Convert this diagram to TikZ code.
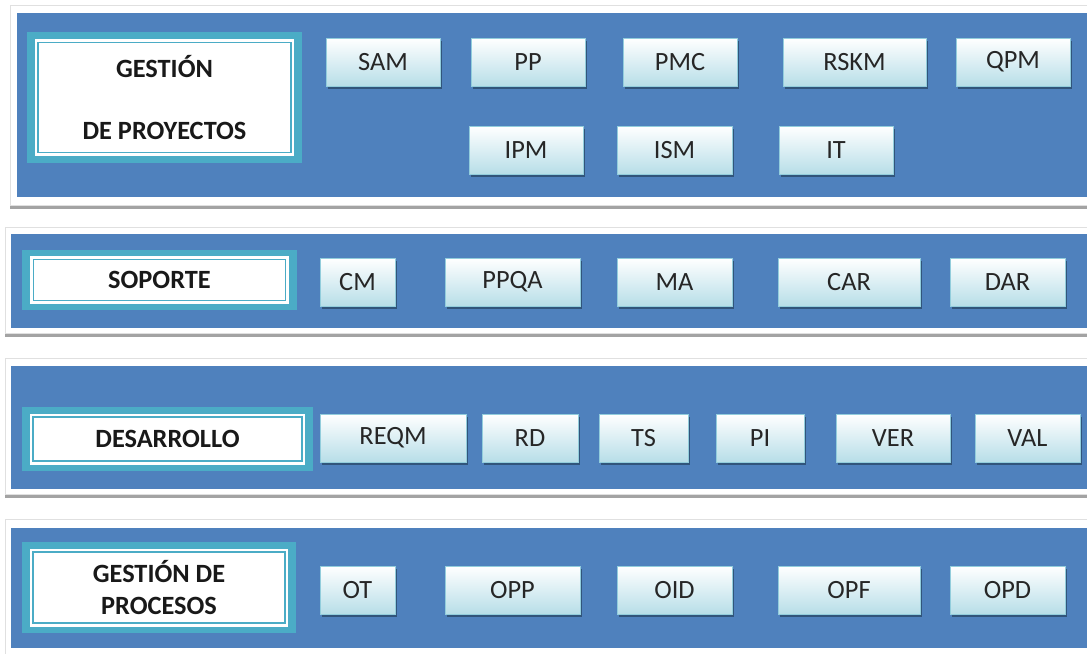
\documentclass[tikz,border=0pt]{standalone}
\usepackage{fontspec}
\setmainfont{Carlito}
\usetikzlibrary{shadows}
\definecolor{panelblue}{HTML}{4F81BD}
\definecolor{titleteal}{HTML}{4BACC6}
\definecolor{btnblue}{HTML}{B7DEE8}
\definecolor{btnedge}{HTML}{92CDDC}
\definecolor{btnshadow}{HTML}{2A4A6B}
\begin{document}
\begin{tikzpicture}[
  x=0.02cm, y=-0.02cm,
  panelframe/.style={fill=white, draw=black!12, drop shadow={shadow xshift=0pt, shadow yshift=-2pt, fill=black!45, opacity=0.8}},
  panel/.style={fill=panelblue},
  titleframe/.style={fill=titleteal, inner sep=0pt},
  titlebox/.style={fill=white, draw=titleteal, line width=0.8pt, preaction={draw=white, line width=4pt}, inner sep=0pt, align=center, font=\fontsize{15}{18}\selectfont\bfseries, text=black!90},
  btn/.style={top color=white, bottom color=btnblue, draw=btnedge, line width=0.5pt, inner sep=0pt, minimum height=0.96cm, font=\fontsize{15}{18}\selectfont, text=black!85, drop shadow={shadow xshift=1.2pt, shadow yshift=-1.5pt, fill=btnshadow, opacity=0.8}}
]
  \useasboundingbox (0,0) rectangle (1087,653);

  % --- PANEL 1: GESTION DE PROYECTOS ---
  \path[panelframe] (10,5) rectangle (1100,205);
  \path[panel] (17,13) rectangle (1100,197);
  \node[titleframe, minimum width=5.5cm, minimum height=2.62cm] (gpf) at (164.5,97.5) {};
  \node[titlebox, minimum width=5.06cm, minimum height=2.2cm] (gp) at (gpf) {GESTIÓN\\[17pt]DE PROYECTOS};

  \node[btn, minimum width=2.28cm] (sam)  at (383,62)   {SAM};
  \node[btn, minimum width=2.28cm] (pp)   at (528,62)   {PP};
  \node[btn, minimum width=2.28cm] (pmc)  at (680,62)   {PMC};
  \node[btn, minimum width=2.86cm] (rskm) at (854.5,62) {RSKM};
  \node[btn, minimum width=2.28cm] (qpm)  at (1013,62)  {QPM};
  \node[btn, minimum width=2.28cm] (ipm)  at (526,150)  {IPM};
  \node[btn, minimum width=2.30cm] (ism)  at (674.5,150) {ISM};
  \node[btn, minimum width=2.28cm] (it)   at (836,150)  {IT};

  % --- PANEL 2: SOPORTE ---
  \path[panelframe] (5,227) rectangle (1100,333);
  \path[panel] (11,234) rectangle (1100,328);
  \node[titleframe, minimum width=5.5cm, minimum height=1.2cm] (sof) at (159.5,280) {};
  \node[titlebox, minimum width=5.04cm, minimum height=0.82cm] (so) at (sof) {SOPORTE};

  \node[btn, minimum width=1.50cm] (cm)   at (357.5,282)  {CM};
  \node[btn, minimum width=2.70cm] (ppqa) at (512.5,282)  {PPQA};
  \node[btn, minimum width=2.30cm] (ma)   at (674.5,282)  {MA};
  \node[btn, minimum width=2.84cm] (car)  at (849,282)    {CAR};
  \node[btn, minimum width=2.30cm] (dar)  at (1007.5,282) {DAR};

  % --- PANEL 3: DESARROLLO ---
  \path[panelframe] (5,358) rectangle (1100,494);
  \path[panel] (11,366) rectangle (1100,489);
  \node[titleframe, minimum width=5.82cm, minimum height=1.28cm] (def) at (167.5,439) {};
  \node[titlebox, minimum width=5.38cm, minimum height=0.88cm] (de) at (def) {DESARROLLO};

  \node[btn, minimum width=2.92cm] (reqm) at (393,438)    {REQM};
  \node[btn, minimum width=1.92cm] (rd)   at (530,438)    {RD};
  \node[btn, minimum width=1.78cm] (ts)   at (643.5,438)  {TS};
  \node[btn, minimum width=1.76cm] (pi)   at (760,438)    {PI};
  \node[btn, minimum width=2.28cm] (ver)  at (893,438)    {VER};
  \node[btn, minimum width=2.10cm] (val)  at (1027.5,438) {VAL};

  % --- PANEL 4: GESTION DE PROCESOS ---
  \path[panelframe] (5,519) rectangle (1100,660);
  \path[panel] (11,528) rectangle (1100,648);
  \node[titleframe, minimum width=5.48cm, minimum height=1.82cm] (gcf) at (159,587.5) {};
  \node[titlebox, minimum width=5.04cm, minimum height=1.42cm] (gc) at (gcf) {GESTIÓN DE\\PROCESOS};

  \node[btn, minimum width=1.50cm] (ot)  at (357.5,590)  {OT};
  \node[btn, minimum width=2.70cm] (opp) at (512.5,590)  {OPP};
  \node[btn, minimum width=2.30cm] (oid) at (674.5,590)  {OID};
  \node[btn, minimum width=2.84cm] (opf) at (849,590)    {OPF};
  \node[btn, minimum width=2.30cm] (opd) at (1007.5,590) {OPD};
\end{tikzpicture}
\end{document}
